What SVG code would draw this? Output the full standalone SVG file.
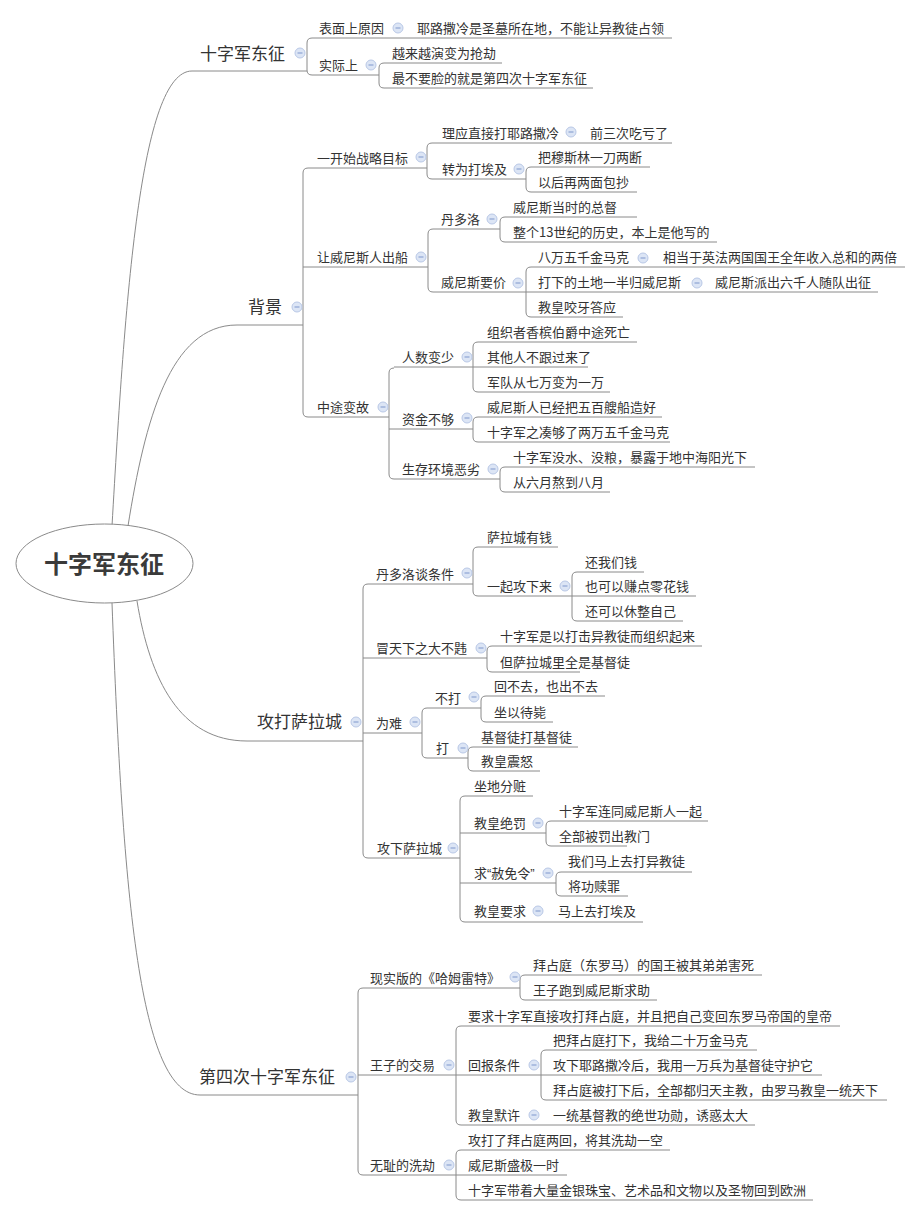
<svg xmlns="http://www.w3.org/2000/svg" xmlns:xlink="http://www.w3.org/1999/xlink" width="920" height="1216" viewBox="0 0 920 1216">
<style>
text{font-family:"Noto Sans CJK SC","Microsoft YaHei",sans-serif;fill:#333;}
.t{font-size:13px;}
.t1{font-size:17px;}
.q{font-family:"Liberation Sans","Noto Sans CJK SC",sans-serif;}
.root{font-size:24px;font-weight:bold;fill:#3a3a3a;}
.u,.c path{fill:none;stroke:#8a8a8a;stroke-width:1;}
</style>
<defs>
<g id="ic"><circle cx="0" cy="0" r="5" fill="#dce5f5" stroke="#b9c8e6" stroke-width="1"/><line x1="-2.5" y1="0" x2="2.5" y2="0" stroke="#8ea3d3" stroke-width="1.2"/></g>
</defs>
<rect width="920" height="1216" fill="#fff"/>

<g id="connectors" class="c">
<path d="M112,526 C125,300 140,71 192,71"/>
<path d="M128,526 C145,420 170,325 237,325"/>
<path d="M137,601 C150,680 180,741 247,741"/>
<path d="M112,603 C123,900 140,1095 200,1095"/>
<path d="M312,38 Q307,38 307,43 L307,70 Q307,75 312,75"/>
<path d="M384,63 Q379,63 379,68 L379,83 Q379,88 384,88"/>
<path d="M308,168 Q303,168 303,173 L303,412 Q303,417 308,417"/>
<path d="M432,143 Q427,143 427,148 L427,174 Q427,179 432,179"/>
<path d="M531,167 Q526,167 526,172 L526,187 Q526,192 531,192"/>
<path d="M433,229 Q428,229 428,234 L428,287 Q428,292 433,292"/>
<path d="M505,217 Q500,217 500,222 L500,237 Q500,242 505,242"/>
<path d="M531,267 Q526,267 526,272 L526,312 Q526,317 531,317"/>
<path d="M394,368 Q389,368 389,373 L389,474 Q389,479 394,479"/>
<path d="M478,342 Q473,342 473,347 L473,387 Q473,392 478,392"/>
<path d="M478,417 Q473,417 473,422 L473,437 Q473,442 478,442"/>
<path d="M505,467 Q500,467 500,472 L500,487 Q500,492 505,492"/>
<path d="M368,584 Q363,584 363,589 L363,853 Q363,858 368,858"/>
<path d="M478,547 Q473,547 473,552 L473,591 Q473,596 478,596"/>
<path d="M577,572 Q572,572 572,577 L572,616 Q572,621 577,621"/>
<path d="M492,646 Q487,646 487,651 L487,667 Q487,672 492,672"/>
<path d="M427,708 Q422,708 422,713 L422,753 Q422,758 427,758"/>
<path d="M486,696 Q481,696 481,701 L481,717 Q481,722 486,722"/>
<path d="M473,747 Q468,747 468,752 L468,766 Q468,771 473,771"/>
<path d="M465,796 Q460,796 460,801 L460,917 Q460,922 465,922"/>
<path d="M551,821 Q546,821 546,826 L546,841 Q546,846 551,846"/>
<path d="M561,872 Q556,872 556,877 L556,891 Q556,896 561,896"/>
<path d="M363,988 Q358,988 358,993 L358,1170 Q358,1175 363,1175"/>
<path d="M525,975 Q520,975 520,980 L520,995 Q520,1000 525,1000"/>
<path d="M461,1026 Q456,1026 456,1031 L456,1120 Q456,1125 461,1125"/>
<path d="M546,1050 Q541,1050 541,1055 L541,1095 Q541,1100 546,1100"/>
<path d="M461,1150 Q456,1150 456,1155 L456,1195 Q456,1200 461,1200"/>
</g>

<g id="root">
<ellipse cx="104.5" cy="563.5" rx="88.5" ry="39.5" fill="#fff" stroke="#8a8a8a" stroke-width="1"/>
<text class="root" x="104" y="573" text-anchor="middle">十字军东征</text>
</g>

<!-- Section 1 -->
<g id="n1"><text class="t1" x="200" y="60">十字军东征</text><use xlink:href="#ic" x="300" y="53"/><path class="u" d="M192,71 H307"/></g>
<g id="n1a"><text class="t" x="319" y="33">表面上原因</text><use xlink:href="#ic" x="398" y="28"/><path class="u" d="M312,38 H407"/></g>
<g id="n1a1"><text class="t" x="417" y="33">耶路撒冷是圣墓所在地，不能让异教徒占领</text><path class="u" d="M407,38 H672"/></g>
<g id="n1b"><text class="t" x="319" y="70">实际上</text><use xlink:href="#ic" x="371" y="65"/><path class="u" d="M312,75 H379"/></g>
<g id="n1b1"><text class="t" x="392" y="58">越来越演变为抢劫</text><path class="u" d="M384,63 H502"/></g>
<g id="n1b2"><text class="t" x="392" y="83">最不要脸的就是第四次十字军东征</text><path class="u" d="M384,88 H593"/></g>

<!-- Section 2 -->
<g id="n2"><text class="t1" x="248" y="313">背景</text><use xlink:href="#ic" x="297" y="307"/><path class="u" d="M237,325 H303"/></g>
<g id="n2a"><text class="t" x="317" y="163">一开始战略目标</text><use xlink:href="#ic" x="421" y="157"/><path class="u" d="M308,168 H427"/></g>
<g id="n2a1"><text class="t" x="442" y="138">理应直接打耶路撒冷</text><use xlink:href="#ic" x="571" y="132"/><path class="u" d="M432,143 H580"/></g>
<g id="n2a11"><text class="t" x="590" y="138">前三次吃亏了</text><path class="u" d="M580,143 H672"/></g>
<g id="n2a2"><text class="t" x="442" y="174">转为打埃及</text><use xlink:href="#ic" x="519" y="169"/><path class="u" d="M432,179 H526"/></g>
<g id="n2a21"><text class="t" x="538" y="162">把穆斯林一刀两断</text><path class="u" d="M531,167 H650"/></g>
<g id="n2a22"><text class="t" x="538" y="187">以后再两面包抄</text><path class="u" d="M531,192 H637"/></g>
<g id="n2b"><text class="t" x="317" y="262">让威尼斯人出船</text><use xlink:href="#ic" x="421" y="257"/><path class="u" d="M303,267 H428"/></g>
<g id="n2b1"><text class="t" x="441" y="224">丹多洛</text><use xlink:href="#ic" x="492" y="219"/><path class="u" d="M433,229 H500"/></g>
<g id="n2b11"><text class="t" x="513" y="212">威尼斯当时的总督</text><path class="u" d="M505,217 H637"/></g>
<g id="n2b12"><text class="t" x="513" y="237">整个13世纪的历史，本上是他写的</text><path class="u" d="M505,242 H717"/></g>
<g id="n2b2"><text class="t" x="441" y="287">威尼斯要价</text><use xlink:href="#ic" x="518" y="283"/><path class="u" d="M433,292 H526"/></g>
<g id="n2b21"><text class="t" x="538" y="262">八万五千金马克</text><use xlink:href="#ic" x="643" y="258"/><path class="u" d="M531,267 H653"/></g>
<g id="n2b211"><text class="t" x="663" y="262">相当于英法两国国王全年收入总和的两倍</text><path class="u" d="M653,267 H905"/></g>
<g id="n2b22"><text class="t" x="538" y="287">打下的土地一半归威尼斯</text><use xlink:href="#ic" x="697" y="283"/><path class="u" d="M526,292 H705"/></g>
<g id="n2b221"><text class="t" x="715" y="287">威尼斯派出六千人随队出征</text><path class="u" d="M705,292 H878"/></g>
<g id="n2b23"><text class="t" x="538" y="312">教皇咬牙答应</text><path class="u" d="M531,317 H623"/></g>
<g id="n2c"><text class="t" x="317" y="412">中途变故</text><use xlink:href="#ic" x="383" y="407"/><path class="u" d="M308,417 H389"/></g>
<g id="n2c1"><text class="t" x="402" y="362">人数变少</text><use xlink:href="#ic" x="467" y="357"/><path class="u" d="M394,367 H473"/></g>
<g id="n2c11"><text class="t" x="487" y="337">组织者香槟伯爵中途死亡</text><path class="u" d="M478,342 H637"/></g>
<g id="n2c12"><text class="t" x="487" y="362">其他人不跟过来了</text><path class="u" d="M473,367 H588"/></g>
<g id="n2c13"><text class="t" x="487" y="387">军队从七万变为一万</text><path class="u" d="M478,392 H610"/></g>
<g id="n2c2"><text class="t" x="402" y="424">资金不够</text><use xlink:href="#ic" x="467" y="418"/><path class="u" d="M389,429 H473"/></g>
<g id="n2c21"><text class="t" x="487" y="412">威尼斯人已经把五百艘船造好</text><path class="u" d="M478,417 H662"/></g>
<g id="n2c22"><text class="t" x="487" y="437">十字军之凑够了两万五千金马克</text><path class="u" d="M478,442 H670"/></g>
<g id="n2c3"><text class="t" x="402" y="474">生存环境恶劣</text><use xlink:href="#ic" x="493" y="469"/><path class="u" d="M394,479 H500"/></g>
<g id="n2c31"><text class="t" x="513" y="462">十字军没水、没粮，暴露于地中海阳光下</text><path class="u" d="M505,467 H755"/></g>
<g id="n2c32"><text class="t" x="513" y="487">从六月熬到八月</text><path class="u" d="M505,492 H610"/></g>

<!-- Section 3 -->
<g id="n3"><text class="t1" x="257" y="728">攻打萨拉城</text><use xlink:href="#ic" x="356" y="722"/><path class="u" d="M247,741 H363"/></g>
<g id="n3a"><text class="t" x="376" y="579">丹多洛谈条件</text><use xlink:href="#ic" x="467" y="573"/><path class="u" d="M368,584 H473"/></g>
<g id="n3a1"><text class="t" x="487" y="542">萨拉城有钱</text><path class="u" d="M478,547 H558"/></g>
<g id="n3a2"><text class="t" x="487" y="591">一起攻下来</text><use xlink:href="#ic" x="565" y="586"/><path class="u" d="M478,596 H572"/></g>
<g id="n3a21"><text class="t" x="585" y="567">还我们钱</text><path class="u" d="M577,572 H644"/></g>
<g id="n3a22"><text class="t" x="585" y="591">也可以赚点零花钱</text><path class="u" d="M572,596 H696"/></g>
<g id="n3a23"><text class="t" x="585" y="616">还可以休整自己</text><path class="u" d="M577,621 H683"/></g>
<g id="n3b"><text class="t" x="376" y="653">冒天下之大不韪</text><use xlink:href="#ic" x="481" y="648"/><path class="u" d="M363,658 H487"/></g>
<g id="n3b1"><text class="t" x="500" y="641">十字军是以打击异教徒而组织起来</text><path class="u" d="M492,646 H702"/></g>
<g id="n3b2"><text class="t" x="500" y="667">但萨拉城里全是基督徒</text><path class="u" d="M492,672 H580"/></g>
<g id="n3c"><text class="t" x="376" y="728">为难</text><use xlink:href="#ic" x="415" y="722"/><path class="u" d="M363,733 H422"/></g>
<g id="n3c1"><text class="t" x="435" y="703">不打</text><use xlink:href="#ic" x="474" y="697"/><path class="u" d="M427,708 H481"/></g>
<g id="n3c11"><text class="t" x="494" y="691">回不去，也出不去</text><path class="u" d="M486,696 H605"/></g>
<g id="n3c12"><text class="t" x="494" y="717">坐以待毙</text><path class="u" d="M486,722 H553"/></g>
<g id="n3c2"><text class="t" x="436" y="753">打</text><use xlink:href="#ic" x="463" y="748"/><path class="u" d="M427,758 H468"/></g>
<g id="n3c21"><text class="t" x="481" y="742">基督徒打基督徒</text><path class="u" d="M473,747 H578"/></g>
<g id="n3c22"><text class="t" x="481" y="766">教皇震怒</text><path class="u" d="M473,771 H540"/></g>
<g id="n3d"><text class="t" x="377" y="853">攻下萨拉城</text><use xlink:href="#ic" x="453" y="848"/><path class="u" d="M368,858 H460"/></g>
<g id="n3d1"><text class="t" x="474" y="791">坐地分赃</text><path class="u" d="M465,796 H533"/></g>
<g id="n3d2"><text class="t" x="474" y="828">教皇绝罚</text><use xlink:href="#ic" x="538" y="823"/><path class="u" d="M460,833 H546"/></g>
<g id="n3d21"><text class="t" x="559" y="816">十字军连同威尼斯人一起</text><path class="u" d="M551,821 H708"/></g>
<g id="n3d22"><text class="t" x="559" y="841">全部被罚出教门</text><path class="u" d="M551,846 H627"/></g>
<g id="n3d3"><text class="t q" x="474" y="878">求“赦免令”</text><use xlink:href="#ic" x="548" y="873"/><path class="u" d="M460,883 H556"/></g>
<g id="n3d31"><text class="t" x="568" y="866">我们马上去打异教徒</text><path class="u" d="M561,872 H692"/></g>
<g id="n3d32"><text class="t" x="568" y="891">将功赎罪</text><path class="u" d="M561,896 H628"/></g>
<g id="n3d4"><text class="t" x="474" y="916">教皇要求</text><use xlink:href="#ic" x="538" y="911"/><path class="u" d="M465,922 H548"/></g>
<g id="n3d41"><text class="t" x="558" y="916">马上去打埃及</text><path class="u" d="M548,922 H643"/></g>

<!-- Section 4 -->
<g id="n4"><text class="t1" x="199" y="1083">第四次十字军东征</text><use xlink:href="#ic" x="351" y="1077"/><path class="u" d="M200,1095 H358"/></g>
<g id="n4a"><text class="t" x="370" y="983">现实版的《哈姆雷特》</text><use xlink:href="#ic" x="515" y="977"/><path class="u" d="M363,988 H520"/></g>
<g id="n4a1"><text class="t" x="533" y="970">拜占庭（东罗马）的国王被其弟弟害死</text><path class="u" d="M525,975 H762"/></g>
<g id="n4a2"><text class="t" x="533" y="995">王子跑到威尼斯求助</text><path class="u" d="M525,1000 H657"/></g>
<g id="n4b"><text class="t" x="370" y="1070">王子的交易</text><use xlink:href="#ic" x="449" y="1065"/><path class="u" d="M358,1075 H456"/></g>
<g id="n4b1"><text class="t" x="468" y="1021">要求十字军直接攻打拜占庭，并且把自己变回东罗马帝国的皇帝</text><path class="u" d="M461,1026 H840"/></g>
<g id="n4b2"><text class="t" x="468" y="1070">回报条件</text><use xlink:href="#ic" x="534" y="1065"/><path class="u" d="M456,1075 H541"/></g>
<g id="n4b21"><text class="t" x="553" y="1045">把拜占庭打下，我给二十万金马克</text><path class="u" d="M546,1050 H757"/></g>
<g id="n4b22"><text class="t" x="553" y="1070">攻下耶路撒冷后，我用一万兵为基督徒守护它</text><path class="u" d="M541,1075 H822"/></g>
<g id="n4b23"><text class="t" x="553" y="1095">拜占庭被打下后，全部都归天主教，由罗马教皇一统天下</text><path class="u" d="M546,1100 H887"/></g>
<g id="n4b3"><text class="t" x="468" y="1120">教皇默许</text><use xlink:href="#ic" x="534" y="1115"/><path class="u" d="M461,1125 H543"/></g>
<g id="n4b31"><text class="t" x="553" y="1120">一统基督教的绝世功勋，诱惑太大</text><path class="u" d="M543,1125 H755"/></g>
<g id="n4c"><text class="t" x="370" y="1170">无耻的洗劫</text><use xlink:href="#ic" x="449" y="1165"/><path class="u" d="M363,1175 H456"/></g>
<g id="n4c1"><text class="t" x="468" y="1145">攻打了拜占庭两回，将其洗劫一空</text><path class="u" d="M461,1150 H670"/></g>
<g id="n4c2"><text class="t" x="468" y="1170">威尼斯盛极一时</text><path class="u" d="M456,1175 H567"/></g>
<g id="n4c3"><text class="t" x="468" y="1195">十字军带着大量金银珠宝、艺术品和文物以及圣物回到欧洲</text><path class="u" d="M461,1200 H813"/></g>
</svg>
